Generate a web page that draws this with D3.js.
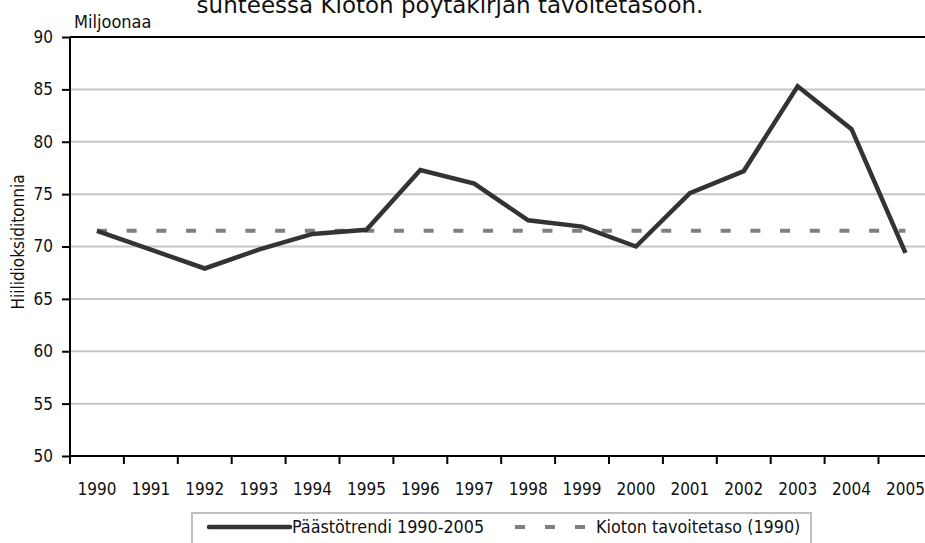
<!DOCTYPE html>
<html lang="fi">
<head>
<meta charset="utf-8">
<title>Päästötrendi</title>
<script src="https://d3js.org/d3.v7.min.js"></script>
<style>
  body { margin: 0; background: #fff; }
  text { font-family: "DejaVu Sans Condensed", "Liberation Sans Narrow", sans-serif; fill: #111; }
</style>
</head>
<body>
<script>

// data
var years = ["1990","1991","1992","1993","1994","1995","1996","1997",
             "1998","1999","2000","2001","2002","2003","2004","2005"];
var emissions = [71.5, 69.7, 67.9, 69.7, 71.2, 71.6, 77.3, 76.0,
                 72.5, 71.9, 70.0, 75.1, 77.2, 85.3, 81.2, 69.4];
var kyotoTarget = [71.5, 71.5, 71.5, 71.5, 71.5, 71.5, 71.5, 71.5,
                   71.5, 71.5, 71.5, 71.5, 71.5, 71.5, 71.5, 71.5];
var yTicks = [50, 55, 60, 65, 70, 75, 80, 85, 90];
var seriesNames = ["Päästötrendi 1990-2005", "Kioton tavoitetaso (1990)"];

var width = 925, height = 543;
var plotLeft = 70, plotTop = 37, plotBottom = 456;
var band = 53.9;

var svg = d3.select("body").append("svg")
    .attr("width", width)
    .attr("height", height);

var x = d3.scaleBand()
    .domain(years)
    .range([plotLeft, plotLeft + band * years.length]);

var y = d3.scaleLinear()
    .domain([50, 90])
    .range([plotBottom, plotTop]);

// title (top is cut off in the original)
svg.append("text")
    .attr("x", 450)
    .attr("y", 13)
    .attr("text-anchor", "middle")
    .style("font-family", "'DejaVu Sans', sans-serif")
    .style("font-size", "23px")
    .text("suhteessa Kioton pöytäkirjan tavoitetasoon.");

// gridlines
svg.append("g")
    .selectAll("line")
    .data(yTicks.filter(function(d) { return d > 50 && d < 90; }))
    .enter().append("line")
    .attr("x1", plotLeft)
    .attr("x2", width)
    .attr("y1", function(d) { return y(d); })
    .attr("y2", function(d) { return y(d); })
    .attr("stroke", "#c6c6c6")
    .attr("stroke-width", 2);

// top border
svg.append("line")
    .attr("x1", plotLeft).attr("x2", width)
    .attr("y1", y(90)).attr("y2", y(90))
    .attr("stroke", "#000").attr("stroke-width", 2);

// y axis
var yAxis = d3.axisLeft(y).tickValues(yTicks).tickSize(8).tickPadding(9);
var yg = svg.append("g")
    .attr("transform", "translate(" + plotLeft + ",0)")
    .call(yAxis);
yg.select(".domain").attr("stroke", "#000").attr("stroke-width", 2)
    .attr("d", "M0," + y(90) + "V" + y(50));
yg.selectAll(".tick line").attr("stroke", "#000").attr("stroke-width", 2);
yg.selectAll(".tick text").style("font-size", "17px").attr("font-family", null);

// x axis: ticks between the categories, labels centred
var xAxis = d3.axisBottom(x).tickSize(0).tickPadding(27);
var xg = svg.append("g")
    .attr("transform", "translate(0," + plotBottom + ")")
    .call(xAxis);
xg.select(".domain").attr("stroke", "#000").attr("stroke-width", 2)
    .attr("d", "M" + plotLeft + ",0H" + width);
xg.selectAll(".tick text").style("font-size", "17px").attr("font-family", null);
xg.selectAll(".sep")
    .data(years)
    .enter().append("line")
    .attr("class", "sep")
    .attr("x1", function(d) { return x(d); })
    .attr("x2", function(d) { return x(d); })
    .attr("y1", 0).attr("y2", 8)
    .attr("stroke", "#000").attr("stroke-width", 2);

// y axis labels
svg.append("text")
    .attr("x", 74).attr("y", 28)
    .style("font-size", "18px")
    .text("Miljoonaa");

svg.append("text")
    .attr("transform", "translate(24,242) rotate(-90)")
    .attr("text-anchor", "middle")
    .style("font-size", "17px")
    .text("Hiilidioksiditonnia");

// lines
var line = d3.line()
    .x(function(d, i) { return x(years[i]) + x.bandwidth() / 2; })
    .y(function(d) { return y(d); });

svg.append("path")
    .datum(kyotoTarget)
    .attr("d", line)
    .attr("fill", "none")
    .attr("stroke", "#808080")
    .attr("stroke-width", 4)
    .attr("stroke-dasharray", "10,19.7");

svg.append("path")
    .datum(emissions)
    .attr("d", line)
    .attr("fill", "none")
    .attr("stroke", "#333")
    .attr("stroke-width", 4.5)
    .attr("stroke-linejoin", "miter");

// legend
var lg = svg.append("g");
lg.append("rect")
    .attr("x", 192).attr("y", 513)
    .attr("width", 619).attr("height", 40)
    .attr("fill", "#fff")
    .attr("stroke", "#c0c0c0")
    .attr("stroke-width", 2);

lg.append("line")
    .attr("x1", 209).attr("x2", 290)
    .attr("y1", 527).attr("y2", 527)
    .attr("stroke", "#333").attr("stroke-width", 4.5)
    .attr("stroke-linecap", "round");
lg.append("text")
    .attr("x", 292).attr("y", 533)
    .style("font-size", "17.8px")
    .text(seriesNames[0]);

lg.append("line")
    .attr("x1", 515).attr("x2", 586)
    .attr("y1", 527).attr("y2", 527)
    .attr("stroke", "#808080").attr("stroke-width", 4)
    .attr("stroke-dasharray", "10,20");
lg.append("text")
    .attr("x", 596).attr("y", 533)
    .style("font-size", "17.8px")
    .text(seriesNames[1]);

</script>
</body>
</html>
